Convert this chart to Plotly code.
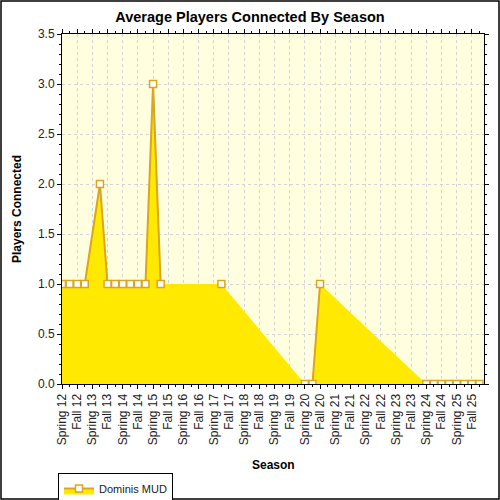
import plotly.graph_objects as go

# season tick labels (one per half-year step on the x axis)
SEASONS = []
for yr in range(12, 26):
    SEASONS += [f"Spring {yr}", f"Fall {yr}"]

# sample positions (in season steps from Spring 12) and average players
point_pos = [0, 0.5, 1, 1.5, 2.5, 3, 3.5, 4, 4.5, 5, 5.5, 6, 6.5, 10.5,
             16, 16.5, 17, 24, 24.5, 25, 25.5, 26, 26.5, 27, 27.5]
players = [1, 1, 1, 1, 2, 1, 1, 1, 1, 1, 1, 3, 1, 1,
           0, 0, 1, 0, 0, 0, 0, 0, 0, 0, 0]

FILL = "#FFE900"
LINE = "#DAA520"
FONT = "Liberation Sans, Arial, sans-serif"

# the outline is only drawn between close samples, big jumps leave a gap
line_x, line_y = [], []
for i, (x, y) in enumerate(zip(point_pos, players)):
    if i > 0 and x - point_pos[i - 1] > 1:
        line_x.append(None)
        line_y.append(None)
    line_x.append(x)
    line_y.append(y)

fig = go.Figure()
fig.add_trace(go.Scatter(x=point_pos, y=players, mode="lines", fill="tozeroy",
                         fillcolor=FILL, line=dict(width=0, color=FILL),
                         showlegend=False, hoverinfo="skip"))
fig.add_trace(go.Scatter(x=line_x, y=line_y, mode="lines+markers", connectgaps=False,
                         line=dict(color=LINE, width=2),
                         marker=dict(symbol="square", size=7, color="white",
                                     line=dict(color=LINE, width=1.5)),
                         showlegend=False))
# legend entry
fig.add_trace(go.Scatter(x=[None], y=[None], mode="lines+markers", fill="tozeroy",
                         fillcolor=FILL, name="Dominis MUD",
                         line=dict(color=LINE, width=2),
                         marker=dict(symbol="square", size=7, color="white",
                                     line=dict(color=LINE, width=1.5))))

axis_common = dict(showline=True, linecolor="black", linewidth=1, mirror="ticks",
                   ticks="outside", ticklen=4, tickcolor="black",
                   showgrid=True, gridcolor="#d4d4d4", griddash="dot", gridwidth=1,
                   zeroline=False, automargin=False,
                   tickfont=dict(family=FONT, size=12, color="#222"))

fig.update_xaxes(range=[0, 27.8], tickmode="array", tickvals=list(range(len(SEASONS))),
                 ticktext=SEASONS, tickangle=-90,
                 minor=dict(dtick=0.5, ticks="outside", ticklen=2, tickcolor="black", showgrid=False),
                 **axis_common)
fig.update_yaxes(range=[0, 3.5], dtick=0.5, tickformat=".1f",
                 minor=dict(dtick=0.1, ticks="outside", ticklen=2, tickcolor="black", showgrid=False),
                 **axis_common)

W, H = 500, 500
L, R, T, B = 62, 16, 34, 116
pw, ph = W - L - R, H - T - B
title_font = dict(family=FONT, size=12, color="black")
fig.update_layout(
    width=W, height=H,
    margin=dict(l=L, r=R, t=T, b=B, autoexpand=False),
    paper_bgcolor="white", plot_bgcolor="#FFFFE0",
    title=dict(text="<b>Average Players Connected By Season</b>", x=0.5, xanchor="center",
               y=1 - 17 / H, yanchor="middle", font=dict(family=FONT, size=14.5, color="black")),
    legend=dict(xref="container", yref="container", x=58 / W, y=1 - 473 / H,
                xanchor="left", yanchor="top",
                bordercolor="black", borderwidth=1, bgcolor="white",
                font=dict(family=FONT, size=11, color="#222"), itemwidth=30,
                tracegroupgap=0),
    annotations=[
        dict(text="<b>Season</b>", xref="paper", yref="paper", x=0.5, y=(H - B - 465) / ph,
             xanchor="center", yanchor="middle", showarrow=False, font=title_font),
        dict(text="<b>Players Connected</b>", xref="paper", yref="paper", x=(17 - L) / pw, y=0.5,
             xanchor="center", yanchor="middle", textangle=-90, showarrow=False, font=title_font),
    ],
    shapes=[dict(type="rect", xref="paper", yref="paper",
                 x0=(1 - L) / pw, x1=(499 - L) / pw,
                 y0=(H - B - 499) / ph, y1=(H - B - 1) / ph,
                 line=dict(color="black", width=1.5), fillcolor="rgba(0,0,0,0)", layer="above")],
)

fig.write_html("out.html", config={"displayModeBar": False},
               post_script="document.body.style.margin='0';")
